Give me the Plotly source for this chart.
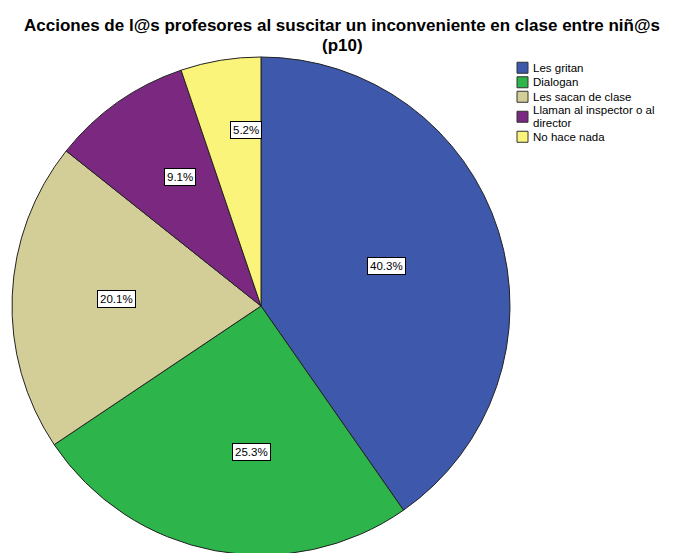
import math
import plotly.graph_objects as go

categories = ["Les gritan", "Dialogan", "Les sacan de clase",
              "Llaman al inspector o al director", "No hace nada"]
legend_lines = [["Les gritan"], ["Dialogan"], ["Les sacan de clase"],
                ["Llaman al inspector o al", "director"], ["No hace nada"]]
values = [40.3, 25.3, 20.1, 9.1, 5.2]
colors = ["#3E58AC", "#2DB44A", "#D3CE97", "#7B2880", "#FAF57A"]
label_radius = [0.53, 0.635, 0.66, 0.675, 0.755]  # radial placement of boxed labels (style)

W, H = 678, 553
OFF = 8  # page body margin
cx_px, cy_px, R = 261 - OFF, 306 - OFF, 249
FONT = "Liberation Sans, Arial, sans-serif"

fig = go.Figure(go.Pie(
    labels=categories, values=values, sort=False, direction="clockwise",
    rotation=0, marker=dict(colors=colors, line=dict(color="#222222", width=1)),
    textinfo="none", hoverinfo="label+percent", showlegend=False,
    domain=dict(x=[(cx_px - R) / W, (cx_px + R) / W],
                y=[(H - (cy_px + R)) / H, (H - (cy_px - R)) / H]),
))

def px(x):
    return x / W

def py(y):
    return (H - y) / H

total = sum(values)
cum = 0
annotations = []
shapes = []
for v, f in zip(values, label_radius):
    mid = (cum + v / 2) / total * 2 * math.pi
    cum += v
    r = f * R
    annotations.append(dict(
        x=px(cx_px + r * math.sin(mid)), y=py(cy_px - r * math.cos(mid)),
        xref="paper", yref="paper", showarrow=False,
        text=f"{v / total * 100:.1f}%",
        font=dict(family=FONT, size=11.5, color="black"),
        bgcolor="white", bordercolor="black", borderwidth=1, borderpad=2,
    ))

# second title line
annotations.append(dict(
    x=px(334), y=py(45.5 - OFF), xref="paper", yref="paper", showarrow=False,
    xanchor="center", yanchor="middle", text="<b>(p10)</b>",
    font=dict(family=FONT, size=17, color="black"),
))

# legend (compact SPSS style)
lx_sw, sw, lx_txt = 509, 11, 524
single_h, line_gap = 14.5, 13
ytop = 60.5 - OFF
for lines, c in zip(legend_lines, colors):
    item_h = single_h + (len(lines) - 1) * (line_gap - 2)
    yc = ytop + item_h / 2
    shapes.append(dict(type="rect", xref="paper", yref="paper",
                       x0=px(lx_sw), x1=px(lx_sw + sw),
                       y0=py(yc - sw / 2), y1=py(yc + sw / 2),
                       fillcolor=c, line=dict(color="#333333", width=1)))
    for i, t in enumerate(lines):
        ly = yc + (i - (len(lines) - 1) / 2) * line_gap
        annotations.append(dict(
            x=px(lx_txt), y=py(ly), xref="paper", yref="paper", showarrow=False,
            xanchor="left", yanchor="middle", text=t,
            font=dict(family=FONT, size=11.5, color="black"), borderpad=0,
        ))
    ytop += item_h

fig.update_layout(
    width=W, height=H, margin=dict(l=0, r=0, t=0, b=0),
    paper_bgcolor="white", plot_bgcolor="white",
    title=dict(text="<b>Acciones de l@s profesores al suscitar un inconveniente en clase entre niñ@s</b>",
               x=px(334), xanchor="center", xref="paper",
               y=py(25.5 - OFF), yanchor="middle", yref="paper",
               font=dict(family=FONT, size=17, color="black")),
    showlegend=False,
    annotations=annotations,
    shapes=shapes,
)

fig.write_html("out.html")
